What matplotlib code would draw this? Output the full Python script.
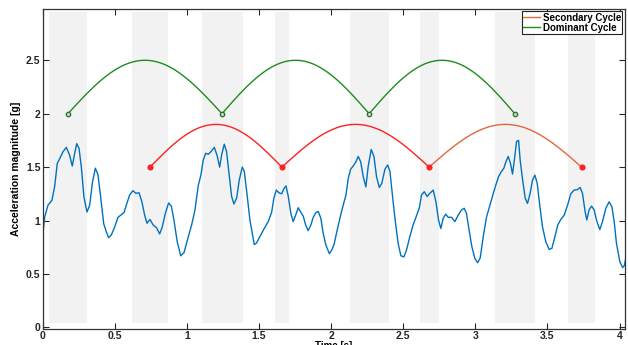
import matplotlib
matplotlib.use("Agg")
import numpy as np
import matplotlib.pyplot as plt

# ======================
# Data
# ======================

t = [0.0, 0.014, 0.037, 0.064, 0.083, 0.101, 0.118, 0.141, 0.164, 0.187, 0.205,
     0.222, 0.236, 0.252, 0.268, 0.286, 0.307, 0.326, 0.344, 0.365, 0.383, 0.402,
     0.423, 0.441, 0.457, 0.476, 0.499, 0.522, 0.545, 0.564, 0.58, 0.603, 0.626,
     0.645, 0.668, 0.688, 0.707, 0.723, 0.744, 0.765, 0.788, 0.811, 0.829, 0.85,
     0.873, 0.892, 0.91, 0.933, 0.957, 0.98, 1.01, 1.033, 1.056, 1.079, 1.097,
     1.113, 1.13, 1.148, 1.167, 1.19, 1.21, 1.227, 1.241, 1.259, 1.275, 1.292,
     1.31, 1.326, 1.345, 1.363, 1.384, 1.398, 1.416, 1.437, 1.453, 1.467, 1.483,
     1.506, 1.536, 1.564, 1.588, 1.603, 1.62, 1.638, 1.657, 1.673, 1.687, 1.703,
     1.721, 1.737, 1.754, 1.772, 1.789, 1.807, 1.823, 1.841, 1.86, 1.876, 1.895,
     1.911, 1.929, 1.945, 1.964, 1.988, 2.005, 2.021, 2.042, 2.066, 2.084, 2.103,
     2.119, 2.135, 2.153, 2.172, 2.188, 2.205, 2.223, 2.241, 2.257, 2.278, 2.297,
     2.315, 2.334, 2.352, 2.373, 2.392, 2.408, 2.426, 2.444, 2.465, 2.484, 2.505,
     2.523, 2.546, 2.569, 2.593, 2.611, 2.627, 2.646, 2.666, 2.685, 2.708, 2.727,
     2.745, 2.761, 2.777, 2.794, 2.812, 2.835, 2.858, 2.881, 2.905, 2.923, 2.939,
     2.957, 2.976, 2.997, 3.016, 3.034, 3.055, 3.078, 3.096, 3.115, 3.138, 3.161,
     3.179, 3.198, 3.212, 3.228, 3.244, 3.258, 3.272, 3.286, 3.30, 3.311, 3.328,
     3.346, 3.362, 3.38, 3.397, 3.413, 3.429, 3.448, 3.466, 3.489, 3.512, 3.531,
     3.552, 3.572, 3.593, 3.616, 3.64, 3.662, 3.685, 3.709, 3.727, 3.743, 3.762,
     3.773, 3.789, 3.806, 3.824, 3.84, 3.863, 3.882, 3.905, 3.928, 3.947, 3.963,
     3.979, 4.002, 4.022, 4.034, 4.045]

acc = [0.85, 1.035, 1.145, 1.19, 1.32, 1.535, 1.58, 1.645, 1.685, 1.61, 1.51,
       1.63, 1.72, 1.675, 1.50, 1.22, 1.08, 1.145, 1.35, 1.49, 1.43, 1.22,
       0.97, 0.895, 0.84, 0.865, 0.94, 1.03, 1.055, 1.075, 1.145, 1.24, 1.28,
       1.255, 1.26, 1.175, 1.05, 0.975, 1.01, 0.96, 0.935, 0.875, 0.94, 1.065,
       1.165, 1.135, 1.005, 0.80, 0.67, 0.70, 0.85, 0.96, 1.10, 1.33, 1.425,
       1.565, 1.63, 1.62, 1.645, 1.685, 1.605, 1.50, 1.615, 1.715, 1.645, 1.44,
       1.225, 1.155, 1.21, 1.38, 1.50, 1.46, 1.255, 1.005, 0.88, 0.775, 0.79,
       0.85, 0.925, 0.99, 1.08, 1.21, 1.285, 1.26, 1.25, 1.30, 1.325, 1.225,
       1.065, 0.99, 1.05, 1.12, 1.08, 1.04, 0.96, 0.905, 0.96, 1.03, 1.075,
       1.085, 1.02, 0.88, 0.77, 0.69, 0.725, 0.78, 0.91, 1.05, 1.145, 1.24,
       1.395, 1.48, 1.51, 1.55, 1.60, 1.55, 1.41, 1.315, 1.505, 1.665, 1.60,
       1.41, 1.31, 1.35, 1.48, 1.52, 1.46, 1.225, 1.005, 0.785, 0.67, 0.66,
       0.725, 0.85, 0.96, 1.05, 1.115, 1.24, 1.27, 1.225, 1.255, 1.285, 1.175,
       1.005, 0.925, 1.02, 1.06, 1.03, 1.03, 0.99, 1.05, 1.10, 1.115, 1.065,
       0.91, 0.755, 0.645, 0.605, 0.65, 0.85, 1.035, 1.12, 1.21, 1.315, 1.41,
       1.455, 1.49, 1.55, 1.60, 1.535, 1.435, 1.58, 1.74, 1.75, 1.565, 1.38,
       1.21, 1.16, 1.255, 1.38, 1.425, 1.35, 1.13, 0.94, 0.80, 0.73, 0.74,
       0.85, 0.96, 1.01, 1.05, 1.145, 1.25, 1.285, 1.29, 1.31, 1.255, 1.08,
       1.005, 1.10, 1.135, 1.10, 1.005, 0.915, 0.99, 1.115, 1.175, 1.13, 0.99,
       0.785, 0.615, 0.56, 0.58, 0.66]

# shaded intervals (start, end) in seconds
band_start = [0.044, 0.619, 1.104, 1.61, 2.13, 2.616, 3.136, 3.642]
band_end = [0.307, 0.869, 1.389, 1.707, 2.40, 2.748, 3.413, 3.829]
BAND_LO, BAND_HI = 0.04, 2.95

# cycle boundaries
dominant_t = [0.175, 1.243, 2.264, 3.274]
dominant_base, dominant_peak = 2.0, 2.5
secondary_t = [0.744, 1.659, 2.68, 3.737]
secondary_base, secondary_peak = 1.5, 1.9


def arc(t0, t1, base, peak, n=80):
    xs = np.linspace(t0, t1, n)
    ys = base + (peak - base) * np.sin(np.pi * (xs - t0) / (t1 - t0))
    return xs, ys


# ======================
# Plot
# ======================

plt.rcParams["font.family"] = ["Liberation Sans", "DejaVu Sans"]
plt.rcParams["font.weight"] = "bold"

fig = plt.figure(figsize=(6.28, 3.45), dpi=100)
ax = fig.add_axes([0.068, 0.0464, 0.927, 0.9275])

for a, b in zip(band_start, band_end):
    ax.fill_between([a, b], BAND_LO, BAND_HI, color="#f2f2f2", lw=0, zorder=0)

ax.plot(t, acc, color="#0072BD", lw=1.0, zorder=2)

green = "#1f8c1f"
red = "#ff2020"
orange = "#e3683a"

for i in range(len(dominant_t) - 1):
    xs, ys = arc(dominant_t[i], dominant_t[i + 1], dominant_base, dominant_peak)
    ax.plot(xs, ys, color=green, lw=1.0, zorder=3)
ax.plot(dominant_t, [dominant_base] * len(dominant_t), "o", ls="none",
        ms=3.2, mfc="#bcd8bc", mec="#2e6e2e", mew=0.9, zorder=4)

sec_colors = [red, red, orange]
for i in range(len(secondary_t) - 1):
    xs, ys = arc(secondary_t[i], secondary_t[i + 1], secondary_base, secondary_peak)
    ax.plot(xs, ys, color=sec_colors[i], lw=1.0, zorder=3)
ax.plot(secondary_t, [secondary_base] * len(secondary_t), "o", ls="none",
        ms=3.6, mfc=red, mec=red, mew=0.8, zorder=4)

# legend handles
ax.plot([], [], color=orange, lw=1.0, label="Secondary Cycle")
ax.plot([], [], color=green, lw=1.0, label="Dominant Cycle")
leg = ax.legend(loc="upper right", fontsize=7, frameon=True, fancybox=False,
                edgecolor="#222222", framealpha=1, borderpad=0.15,
                labelspacing=0.0, handlelength=1.7, handletextpad=0.3,
                borderaxespad=0.25)
leg.get_frame().set_linewidth(0.8)

ax.set_xlim(0, 4.037)
ax.set_ylim(-0.015, 2.98)
ax.set_xticks([0, 0.5, 1, 1.5, 2, 2.5, 3, 3.5, 4])
ax.set_xticklabels(["0", "0.5", "1", "1.5", "2", "2.5", "3", "3.5", "4"])
ax.set_yticks([0, 0.5, 1, 1.5, 2, 2.5])
ax.set_yticklabels(["0", "0.5", "1", "1.5", "2", "2.5"])

ax.tick_params(direction="in", length=4, width=0.8, labelsize=7.5,
               top=True, right=True, pad=1.5, colors="#262626")
for s in ax.spines.values():
    s.set_color("#333333")
    s.set_linewidth(0.9)

ax.set_xlabel("Time [s]", fontsize=7, fontweight="bold", labelpad=0)
ax.set_ylabel("Acceleration magnitude [g]", fontsize=7.5, fontweight="bold",
              labelpad=4)

fig.savefig("out.png", dpi=100)
